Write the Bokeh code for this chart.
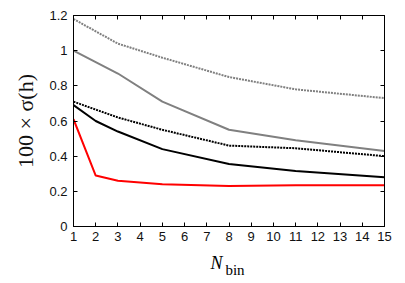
from bokeh.plotting import figure
from bokeh.layouts import column
from bokeh.models import Range1d, FixedTicker, LinearAxis, CustomJSTickFormatter
from bokeh.core.properties import value
from bokeh.embed import file_html
from bokeh.resources import INLINE

nbin = [1, 2, 3, 5, 8, 11, 15]
red = [0.61, 0.29, 0.26, 0.24, 0.23, 0.235, 0.235]
black_solid = [0.69, 0.60, 0.54, 0.44, 0.355, 0.315, 0.28]
nbin_b = [1, 3, 5, 8, 11, 15]
black_dot = [0.71, 0.62, 0.55, 0.46, 0.445, 0.40]
gray_solid = [1.0, 0.87, 0.71, 0.55, 0.49, 0.43]
gray_dot = [1.18, 1.04, 0.96, 0.85, 0.78, 0.73]
xticks = list(range(1, 16))
yticks = [0, 0.2, 0.4, 0.6, 0.8, 1.0, 1.2]

p = figure(width=397, height=246, output_backend="svg", toolbar_location=None,
           x_range=Range1d(1, 15), y_range=Range1d(0, 1.2),
           min_border_left=73, min_border_right=13, min_border_top=15, min_border_bottom=20)
p.grid.visible = False
p.outline_line_color = "black"
p.outline_line_width = 1

fmt = CustomJSTickFormatter(code="return tick.toFixed(1).replace(/\\.0$/, '');")

for ax in p.xaxis:
    ax.ticker = FixedTicker(ticks=xticks)
for ax in p.yaxis:
    ax.ticker = FixedTicker(ticks=yticks)
    ax.formatter = fmt

def style(ax):
    ax.major_tick_in = 4
    ax.major_tick_out = 0
    ax.minor_tick_in = 4
    ax.minor_tick_out = 0
    ax.minor_tick_line_color = "black"
    ax.axis_line_color = "black"
    ax.major_tick_line_color = "black"
    ax.major_label_text_font = "Liberation Sans"
    ax.major_label_text_font_size = "13px"
    ax.major_label_text_color = "#111111"
    ax.major_label_standoff = 6

for ax in p.xaxis + p.yaxis:
    style(ax)
p.xaxis[0].major_label_standoff = 5

top = LinearAxis(ticker=FixedTicker(ticks=[], minor_ticks=xticks))
style(top)
right = LinearAxis(ticker=FixedTicker(ticks=[], minor_ticks=yticks))
style(right)
p.add_layout(top, "above")
p.add_layout(right, "right")

p.yaxis[0].axis_label = "100 × σ(h)"
p.yaxis[0].axis_label_text_font = "Liberation Serif"
p.yaxis[0].axis_label_text_font_style = "normal"
p.yaxis[0].axis_label_text_font_size = "22px"
p.yaxis[0].axis_label_text_color = "#111111"
p.yaxis[0].axis_label_standoff = 8

p.line(nbin_b, gray_dot, line_color="#808080", line_width=2, line_dash="2 1")
p.line(nbin_b, gray_solid, line_color="#808080", line_width=2)
p.line(nbin_b, black_dot, line_color="black", line_width=2, line_dash="2 1")
p.line(nbin, black_solid, line_color="black", line_width=2)
p.line(nbin, red, line_color="red", line_width=2)

# x-axis title "N_bin" drawn in a strip below the plot (same horizontal frame)
lab = figure(width=397, height=37, output_backend="svg", toolbar_location=None,
             x_range=Range1d(1, 15), y_range=Range1d(37, 0),
             x_axis_type=None, y_axis_type=None,
             min_border_left=73, min_border_right=13, min_border_top=0, min_border_bottom=0)
lab.grid.visible = False
lab.outline_line_color = None
lab.text(x=[7.17], y=[16.7], text=["N"], text_font=value("Liberation Serif"),
         text_font_style="italic", text_font_size="18px", text_color="black",
         text_baseline="alphabetic", text_align="left")
lab.text(x=[7.84], y=[23.3], text=["bin"], text_font=value("Liberation Serif"),
         text_font_size="15px", text_color="black",
         text_baseline="alphabetic", text_align="left")

layout = column(p, lab, spacing=0)
open("out.html", "w").write(file_html(layout, INLINE))
